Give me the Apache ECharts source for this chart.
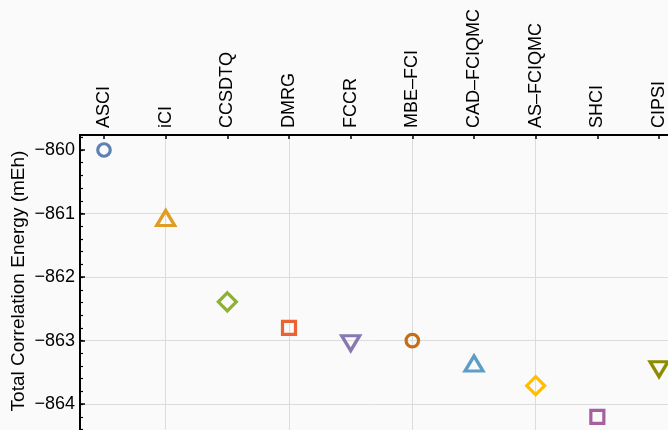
<!DOCTYPE html>
<html><head><meta charset="utf-8">
<script src="https://cdn.jsdelivr.net/npm/echarts@6/dist/echarts.min.js"></script>
<style>html,body{margin:0;padding:0;background:#fafafa;overflow:hidden}#c{width:668px;height:430px}</style>
</head><body><div id="c"></div>
<script>
// ---- data ----
const methods = ['ASCI', 'iCI', 'CCSDTQ', 'DMRG', 'FCCR', 'MBE\u2013FCI', 'CAD\u2013FCIQMC', 'AS\u2013FCIQMC', 'SHCI', 'CIPSI'];
const energies = [-860.0, -861.07, -862.39, -862.8, -863.04, -863.0, -863.36, -863.71, -864.2, -863.45];
const yAxisTitle = 'Total Correlation Energy (mEh)';

// ---- styles ----
const shapes = ['circle', 'triangle', 'diamond', 'rect', 'triangle', 'circle', 'triangle', 'diamond', 'rect', 'triangle'];
const rotations = [0, 0, 0, 0, 180, 0, 0, 0, 0, 180];
const colors = ['#5E81B5', '#E19C24', '#8FB032', '#EB6235', '#8778B3', '#C56E1A', '#5D9EC7', '#FFBF00', '#A5609D', '#8F8C00'];
const sizeOf = s => s === 'circle' ? 12.5 : s === 'rect' ? 13 : s === 'diamond' ? 18 : [18, 15];

const FONT = 'Liberation Sans, Arial, sans-serif';
const GRID = '#dcdcdc';
const NONE = 'rgba(0,0,0,0)';
const xMin = 0.611, xMax = 10.389;
const yMin = -864.8, yMax = -859.764;

const chart = echarts.init(document.getElementById('c'), null, {renderer: 'canvas'});
const series = methods.map((m, i) => ({
  name: m,
  type: 'scatter',
  xAxisIndex: 0,
  yAxisIndex: 0,
  symbol: shapes[i],
  symbolRotate: rotations[i],
  symbolSize: sizeOf(shapes[i]),
  itemStyle: {color: NONE, borderColor: colors[i], borderWidth: 3.2, opacity: 1},
  emphasis: {disabled: true},
  z: 5,
  clip: false,
  data: [[i + 1, energies[i]]]
}));

chart.setOption({
  backgroundColor: '#fafafa',
  animation: false,
  textStyle: {fontFamily: FONT},
  grid: {left: 80, top: 135, right: -15, bottom: -25, containLabel: false, outerBoundsMode: 'none'},
  xAxis: [{
    type: 'value', position: 'top', min: xMin, max: xMax, minInterval: 1, maxInterval: 1,
    axisLine: {show: true, onZero: false, lineStyle: {color: '#000', width: 2}},
    axisTick: {show: true, inside: true, length: 4, lineStyle: {color: '#000', width: 1.5}},
    axisLabel: {
      rotate: -90, margin: 7, fontSize: 18, color: '#000', fontFamily: FONT,
      hideOverlap: false,
      formatter: v => (Math.abs(v - Math.round(v)) < 1e-6 && v >= 1 && v <= methods.length) ? methods[Math.round(v) - 1] : ''
    },
    splitLine: {show: true, lineStyle: {width: 1, color: [NONE, NONE, GRID, NONE, GRID, NONE, GRID, NONE, GRID, NONE, NONE, NONE]}}
  }],
  yAxis: [{
    type: 'value', position: 'left', min: yMin, max: yMax, minInterval: 1, maxInterval: 1,
    name: yAxisTitle, nameLocation: 'middle', nameGap: 52, nameRotate: 90, nameMoveOverlap: false,
    nameTextStyle: {fontSize: 19, color: '#000', fontFamily: FONT, padding: [0, 0, 0, 28]},
    axisLine: {show: true, onZero: false, lineStyle: {color: '#000', width: 2}},
    axisTick: {show: true, inside: true, length: 5, lineStyle: {color: '#000', width: 1.5}},
    axisLabel: {
      margin: 5, fontSize: 18, color: '#000', fontFamily: FONT,
      formatter: v => Math.abs(v - Math.round(v)) < 1e-6 ? '\u2212' + Math.abs(Math.round(v)) : ''
    },
    splitLine: {show: true, lineStyle: {width: 1, color: [NONE, GRID, GRID, GRID, GRID, NONE, NONE]}}
  }, {
    type: 'value', position: 'left', offset: 0, min: yMin, max: yMax, minInterval: 0.2, maxInterval: 0.2,
    axisLine: {show: true, onZero: false, lineStyle: {color: NONE}},
    axisTick: {show: true, inside: true, length: 3, lineStyle: {color: '#000', width: 1.2}},
    axisLabel: {show: false},
    splitLine: {show: false}
  }],
  series: series
});
</script></body></html>
